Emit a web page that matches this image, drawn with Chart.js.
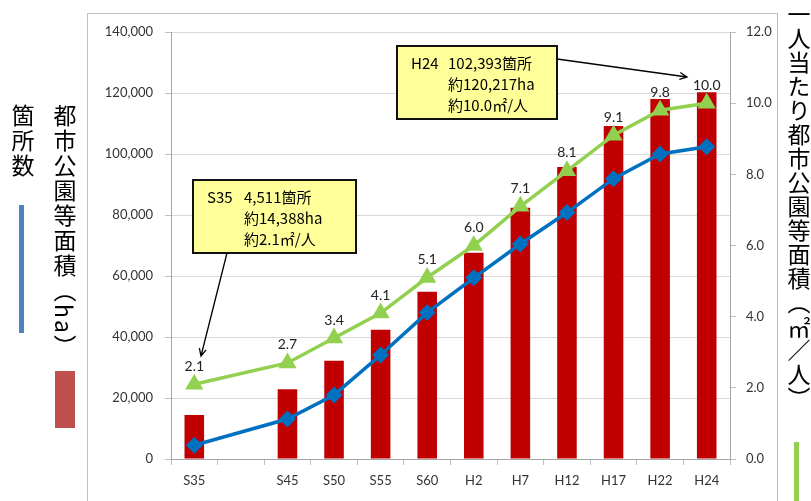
<!DOCTYPE html>
<html>
<head>
<meta charset="utf-8">
<script src="https://cdn.jsdelivr.net/npm/chart.js@4.4.1/dist/chart.umd.min.js"></script>
<style>
  html, body { margin: 0; padding: 0; background: #fff; }
  #wrap { position: relative; width: 811px; height: 501px; overflow: hidden; }
  #frame { position: absolute; left: 87px; top: 13px; width: 689px; height: 520px; border: 1px solid #bfbfbf; }
  canvas { position: absolute; left: 0; top: 0; }
  .vt { position: absolute; writing-mode: vertical-rl; font-family: "Noto Sans CJK JP", sans-serif;
        font-size: 23px; line-height: 1; letter-spacing: 2px; color: #000; white-space: nowrap; }
  .key { position: absolute; }
</style>
</head>
<body>
<div id="wrap">
  <div id="frame"></div>
  <canvas id="chart" width="811" height="501"></canvas>
  <div class="vt" style="left:11px; top:104px;">箇所数</div>
  <div class="key" style="left:19px; top:205px; width:5px; height:128px; background:#4f81bd;"></div>
  <div class="vt" style="left:53px; top:104px;">都市公園等面積（ha）</div>
  <div class="key" style="left:55px; top:371px; width:20px; height:57px; background:#c0504d;"></div>
  <div class="vt" style="left:787px; top:3px; letter-spacing:1px;">一人当たり都市公園等面積（㎡／人）</div>
  <div class="key" style="left:794px; top:442px; width:5px; height:60px; background:#92d050;"></div>
</div>
<script>
// Data (S40 slot is empty in the original)
const years = ['S35', '', 'S45', 'S50', 'S55', 'S60', 'H2', 'H7', 'H12', 'H17', 'H22', 'H24'];
const parkArea = [14388, null, 22900, 32200, 42400, 54800, 67600, 82400, 95700, 109200, 118000, 120217];
const parkCount = [4511, null, 13100, 21000, 34100, 48000, 59400, 70500, 80800, 91900, 100000, 102393];
const perCapita = [2.1, null, 2.7, 3.4, 4.1, 5.1, 6.0, 7.1, 8.1, 9.1, 9.8, 10.0];

const notes = [
  {
    box: [193, 180, 163, 73],
    head: 'S35',
    lines: ['4,511箇所', '約14,388ha', '約2.1㎡/人'],
    from: [227, 253], to: [201, 356]
  },
  {
    box: [397, 46, 160, 73],
    head: 'H24',
    lines: ['102,393箇所', '約120,217ha', '約10.0㎡/人'],
    from: [557, 59], to: [687, 77]
  }
];

const tickFont = { family: 'Lato, "Open Sans", sans-serif', size: 13 };

const notesPlugin = {
  id: 'notes',
  afterDatasetsDraw(chart) {
    const ctx = chart.ctx;
    const x = chart.scales.x;
    const yr = chart.scales.y1;

    // value labels above the per-capita line
    ctx.save();
    ctx.fillStyle = '#222';
    ctx.font = '14px Lato, "Open Sans", sans-serif';
    ctx.textAlign = 'center';
    ctx.textBaseline = 'middle';
    perCapita.forEach((v, i) => {
      if (v == null) return;
      ctx.fillText(v.toFixed(1), x.getPixelForValue(i), yr.getPixelForValue(v) - 18);
    });
    ctx.restore();

    notes.forEach(n => {
      const [bx, by, bw, bh] = n.box;
      ctx.save();
      ctx.fillStyle = '#ffff99';
      ctx.fillRect(bx, by, bw, bh);
      ctx.strokeStyle = '#111';
      ctx.lineWidth = 2;
      ctx.strokeRect(bx, by, bw, bh);

      ctx.fillStyle = '#000';
      ctx.font = '15px "Noto Sans CJK JP", sans-serif';
      ctx.textBaseline = 'middle';
      ctx.fillText(n.head, bx + 14, by + 17);
      n.lines.forEach((t, k) => ctx.fillText(t, bx + 51, by + 17 + k * 21));

      // arrow
      const [x1, y1] = n.from, [x2, y2] = n.to;
      ctx.strokeStyle = '#000';
      ctx.lineWidth = 1.3;
      ctx.beginPath();
      ctx.moveTo(x1, y1);
      ctx.lineTo(x2, y2);
      const a = Math.atan2(y2 - y1, x2 - x1);
      ctx.moveTo(x2 - 8 * Math.cos(a - 0.45), y2 - 8 * Math.sin(a - 0.45));
      ctx.lineTo(x2, y2);
      ctx.lineTo(x2 - 8 * Math.cos(a + 0.45), y2 - 8 * Math.sin(a + 0.45));
      ctx.stroke();
      ctx.restore();
    });
  }
};

new Chart(document.getElementById('chart'), {
  data: {
    labels: years,
    datasets: [
      {
        type: 'line',
        label: '一人当たり都市公園等面積',
        data: perCapita,
        yAxisID: 'y1',
        borderColor: '#92d050',
        backgroundColor: '#92d050',
        borderWidth: 3.5,
        pointStyle: 'triangle',
        pointRadius: 7,
        spanGaps: true,
        order: 1
      },
      {
        type: 'line',
        label: '箇所数',
        data: parkCount,
        yAxisID: 'y',
        borderColor: '#0070c0',
        backgroundColor: '#0070c0',
        borderWidth: 3.5,
        pointStyle: 'rectRot',
        pointRadius: 6,
        spanGaps: true,
        order: 2
      },
      {
        type: 'bar',
        label: '都市公園等面積',
        data: parkArea,
        yAxisID: 'y',
        backgroundColor: '#c00000',
        barPercentage: 0.42,
        categoryPercentage: 1,
        order: 3
      }
    ]
  },
  options: {
    responsive: false,
    devicePixelRatio: 1,
    animation: false,
    layout: { padding: { left: 88, right: 34, top: 32, bottom: 0 } },
    plugins: { legend: { display: false }, tooltip: { enabled: false } },
    scales: {
      x: {
        grid: { display: true, drawOnChartArea: false, color: '#bfbfbf', tickLength: 6 },
        border: { color: '#a6a6a6' },
        ticks: { font: tickFont, color: '#333', padding: 8, maxRotation: 0, autoSkip: false },
        afterFit: s => { s.height = 42; }
      },
      y: {
        position: 'left',
        min: 0, max: 140000,
        grid: { color: '#d9d9d9', tickLength: 6, tickColor: '#bfbfbf' },
        border: { color: '#a6a6a6' },
        ticks: { stepSize: 20000, font: tickFont, color: '#333', padding: 12,
                 callback: v => v.toLocaleString('en-US') },
        afterFit: s => { s.width = 83; }
      },
      y1: {
        position: 'right',
        min: 0, max: 12,
        grid: { drawOnChartArea: false, tickLength: 6, color: '#bfbfbf' },
        border: { color: '#a6a6a6' },
        ticks: { stepSize: 2, font: tickFont, color: '#333', padding: 10,
                 callback: v => v.toFixed(1) },
        afterFit: s => { s.width = 47; }
      }
    }
  },
  plugins: [notesPlugin]
});
</script>
</body>
</html>
